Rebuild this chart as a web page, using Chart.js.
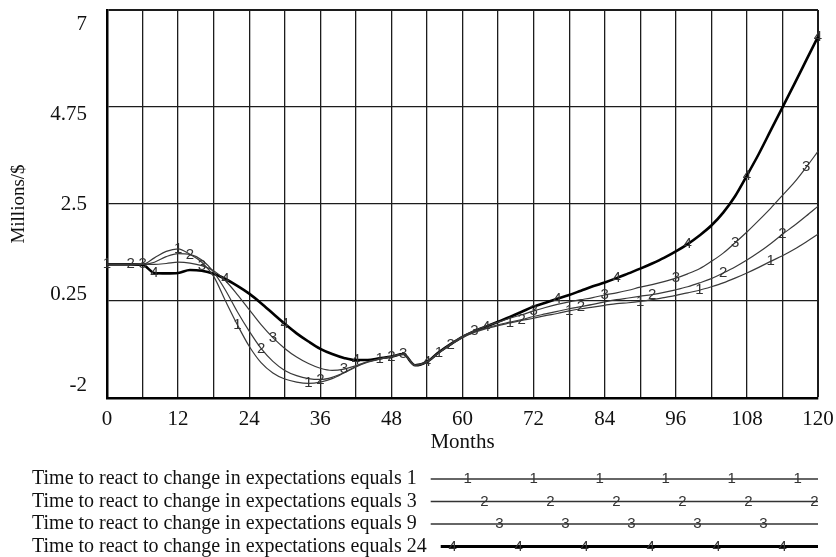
<!DOCTYPE html>
<html>
<head>
<meta charset="utf-8">
<script src="https://cdn.jsdelivr.net/npm/chart.js@4.4.1/dist/chart.umd.min.js"></script>
<style>
html,body{margin:0;padding:0;background:#fff;}
#wrap{width:836px;height:557px;position:relative;}
</style>
</head>
<body>
<div id="wrap"><canvas id="c" width="836" height="557"></canvas></div>
<script>
// ---- data ----
const months = [0,2,4,6,8,10,12,14,16,18,20,22,24,26,28,30,32,34,36,38,40,42,44,46,48,50,52,54,56,58,60,62,64,66,68,70,72,74,76,78,80,82,84,86,88,90,92,94,96,98,100,102,104,106,108,110,112,114,116,118,120];

const react1 = [1.10,1.10,1.10,1.10,1.25,1.40,1.46,1.33,1.15,0.82,0.25,-0.30,-0.80,-1.18,-1.42,-1.56,-1.63,-1.66,-1.63,-1.55,-1.42,-1.28,-1.17,-1.10,-1.04,-0.98,-1.24,-1.16,-0.95,-0.77,-0.60,-0.48,-0.39,-0.32,-0.26,-0.20,-0.15,-0.09,-0.04,0.02,0.07,0.11,0.15,0.19,0.21,0.24,0.28,0.33,0.38,0.44,0.50,0.58,0.67,0.78,0.90,1.03,1.17,1.30,1.45,1.62,1.80];
const react3 = [1.10,1.10,1.10,1.10,1.15,1.28,1.35,1.33,1.20,0.92,0.50,0.00,-0.45,-0.85,-1.15,-1.36,-1.48,-1.55,-1.57,-1.52,-1.41,-1.27,-1.16,-1.10,-1.04,-0.98,-1.24,-1.16,-0.95,-0.76,-0.58,-0.46,-0.37,-0.30,-0.24,-0.18,-0.11,-0.05,0.01,0.07,0.12,0.17,0.23,0.28,0.32,0.36,0.40,0.45,0.51,0.58,0.67,0.77,0.90,1.04,1.20,1.38,1.58,1.80,2.00,2.22,2.45];
const react9 = [1.10,1.10,1.10,1.10,1.10,1.12,1.15,1.13,1.07,0.95,0.72,0.40,0.05,-0.30,-0.60,-0.85,-1.05,-1.20,-1.31,-1.36,-1.33,-1.25,-1.16,-1.09,-1.04,-0.98,-1.24,-1.16,-0.95,-0.75,-0.57,-0.44,-0.33,-0.24,-0.15,-0.07,0.02,0.10,0.17,0.23,0.28,0.33,0.39,0.44,0.50,0.57,0.63,0.70,0.78,0.88,1.00,1.17,1.36,1.60,1.85,2.12,2.40,2.70,3.00,3.35,3.72];
const react24 = [1.10,1.10,1.10,1.09,0.90,0.89,0.90,0.97,0.95,0.88,0.76,0.60,0.42,0.20,-0.04,-0.28,-0.50,-0.69,-0.86,-0.98,-1.07,-1.12,-1.12,-1.08,-1.04,-0.98,-1.24,-1.16,-0.94,-0.75,-0.58,-0.45,-0.34,-0.23,-0.12,0.00,0.12,0.21,0.30,0.39,0.49,0.59,0.68,0.78,0.89,1.00,1.12,1.25,1.40,1.57,1.77,2.00,2.30,2.68,3.16,3.66,4.20,4.74,5.28,5.83,6.38];

// months on which each run carries its number marker
const marks1 = [0,12,22,34,46,56,68,78,90,100,112];
const marks3 = [4,14,26,36,48,58,70,80,92,104,114];
const marks9 = [6,16,28,40,50,62,72,84,96,106,118];
const marks24 = [8,20,30,42,54,64,76,86,98,108,120];

const seriesNames = [
  'Time to react to change in expectations equals 1',
  'Time to react to change in expectations equals 3',
  'Time to react to change in expectations equals 9',
  'Time to react to change in expectations equals 24'
];
const seriesDigits = ['1','2','3','4'];

const gridMonths = [0,6,12,18,24,30,36,42,48,54,60,66,72,78,84,90,96,102,108,114,120];
const xTickValues = [0,12,24,36,48,60,72,84,96,108,120];
const xTickLabels = ['0','12','24','36','48','60','72','84','96','108','120'];
const yTickValues = [-2,0.25,2.5,4.75,7];
const yTickLabels = ['-2','0.25','2.5','4.75','7'];

// ---- drawing ----
const SERIF = '"Liberation Serif","Times New Roman",serif';
const SANS = '"Liberation Sans",Arial,sans-serif';
const allSeries = [react1, react3, react9, react24];
const allMarks = [marks1, marks3, marks9, marks24];

const datasets = allSeries.map((vals, i) => ({
  label: seriesNames[i],
  data: months.map((m, k) => ({x: m, y: vals[k]})),
  borderColor: i === 3 ? '#000' : '#3a3a3a',
  borderWidth: i === 3 ? 2.6 : 1.2,
  pointRadius: 0,
  fill: false,
  cubicInterpolationMode: 'monotone',
  clip: false
}));

const markerPlugin = {
  id: 'markers',
  afterDatasetsDraw(chart) {
    const ctx = chart.ctx;
    ctx.save();
    ctx.font = '15px ' + SANS;
    ctx.fillStyle = '#333';
    ctx.textAlign = 'center';
    ctx.textBaseline = 'middle';
    allMarks.forEach((mk, i) => {
      const meta = chart.getDatasetMeta(i);
      mk.forEach(m => {
        const el = meta.data[months.indexOf(m)];
        if (el) ctx.fillText(seriesDigits[i], el.x, el.y);
      });
    });
    ctx.restore();
  }
};

const legendMarkFirst = [467.7, 484.3, 499.3, 452.7];
const legendPlugin = {
  id: 'rowLegend',
  afterDraw(chart) {
    const ctx = chart.ctx;
    const xs = chart.scales.x;
    const right = chart.chartArea.right;
    ctx.save();
    seriesNames.forEach((text, i) => {
      const y = xs.bottom + 24 + i * 22.5;
      ctx.font = '20px ' + SERIF;
      ctx.fillStyle = '#111';
      ctx.textAlign = 'left';
      ctx.textBaseline = 'middle';
      ctx.fillText(text, 32, y);
      const w = ctx.measureText(text).width;
      const x0 = 32 + w + 14;
      ctx.strokeStyle = i === 3 ? '#000' : '#333';
      ctx.lineWidth = i === 3 ? 3 : 1.5;
      ctx.beginPath();
      ctx.moveTo(x0, y);
      ctx.lineTo(right, y);
      ctx.stroke();
      ctx.font = '15px ' + SANS;
      ctx.fillStyle = '#333';
      ctx.textAlign = 'center';
      for (let x = legendMarkFirst[i]; x < right; x += 66) {
        ctx.fillText(seriesDigits[i], x, y);
      }
    });
    ctx.restore();
  }
};

const gridColor = '#1c1c1c';
new Chart(document.getElementById('c'), {
  type: 'line',
  data: {datasets},
  options: {
    responsive: false,
    animation: false,
    events: [],
    layout: {padding: {left: 0, right: 18, top: 10, bottom: 102}},
    plugins: {legend: {display: false}, tooltip: {enabled: false}},
    scales: {
      x: {
        type: 'linear', min: 0, max: 120,
        afterBuildTicks: s => { s.ticks = gridMonths.map(v => ({value: v})); },
        afterFit: s => { s.height = 57; s.paddingLeft = 0; s.paddingRight = 0; },
        grid: {color: gridColor, drawTicks: false,
               lineWidth: c => (c.tick && c.tick.value === 120) ? 2 : 1.3},
        border: {color: '#000', width: 2.5},
        ticks: {
          autoSkip: false, maxRotation: 0, padding: 9, color: '#111',
          font: {family: SERIF, size: 21},
          callback: v => { const k = xTickValues.indexOf(v); return k >= 0 ? xTickLabels[k] : ''; }
        },
        title: {display: true, text: 'Months', color: '#111', font: {family: SERIF, size: 21}, padding: {top: 0, bottom: 0}}
      },
      y: {
        min: -2, max: 7, weight: 0,
        afterBuildTicks: s => { s.ticks = yTickValues.map(v => ({value: v})); },
        afterFit: s => { s.width = 0; s.paddingTop = 0; s.paddingBottom = 0; },
        grid: {color: gridColor, drawTicks: false,
               lineWidth: c => (c.tick && c.tick.value === 7) ? 2 : 1.3},
        border: {color: '#000', width: 2.5},
        ticks: {display: false}
      },
      yLabels: {
        position: 'left', weight: 1, min: -2.324, max: 7.349,
        afterBuildTicks: s => { s.ticks = yTickValues.map(v => ({value: v})); },
        afterFit: s => { s.width = 107; s.paddingTop = 0; s.paddingBottom = 0; },
        grid: {display: false, drawTicks: false},
        border: {display: false},
        ticks: {
          padding: 20, color: '#111', font: {family: SERIF, size: 21},
          callback: v => { const k = yTickValues.indexOf(v); return k >= 0 ? yTickLabels[k] : ''; }
        },
        title: {display: true, text: 'Millions/$', color: '#111', font: {family: SERIF, size: 19}, padding: {top: 8, bottom: 0}}
      }
    }
  },
  plugins: [markerPlugin, legendPlugin]
});
</script>
</body>
</html>
